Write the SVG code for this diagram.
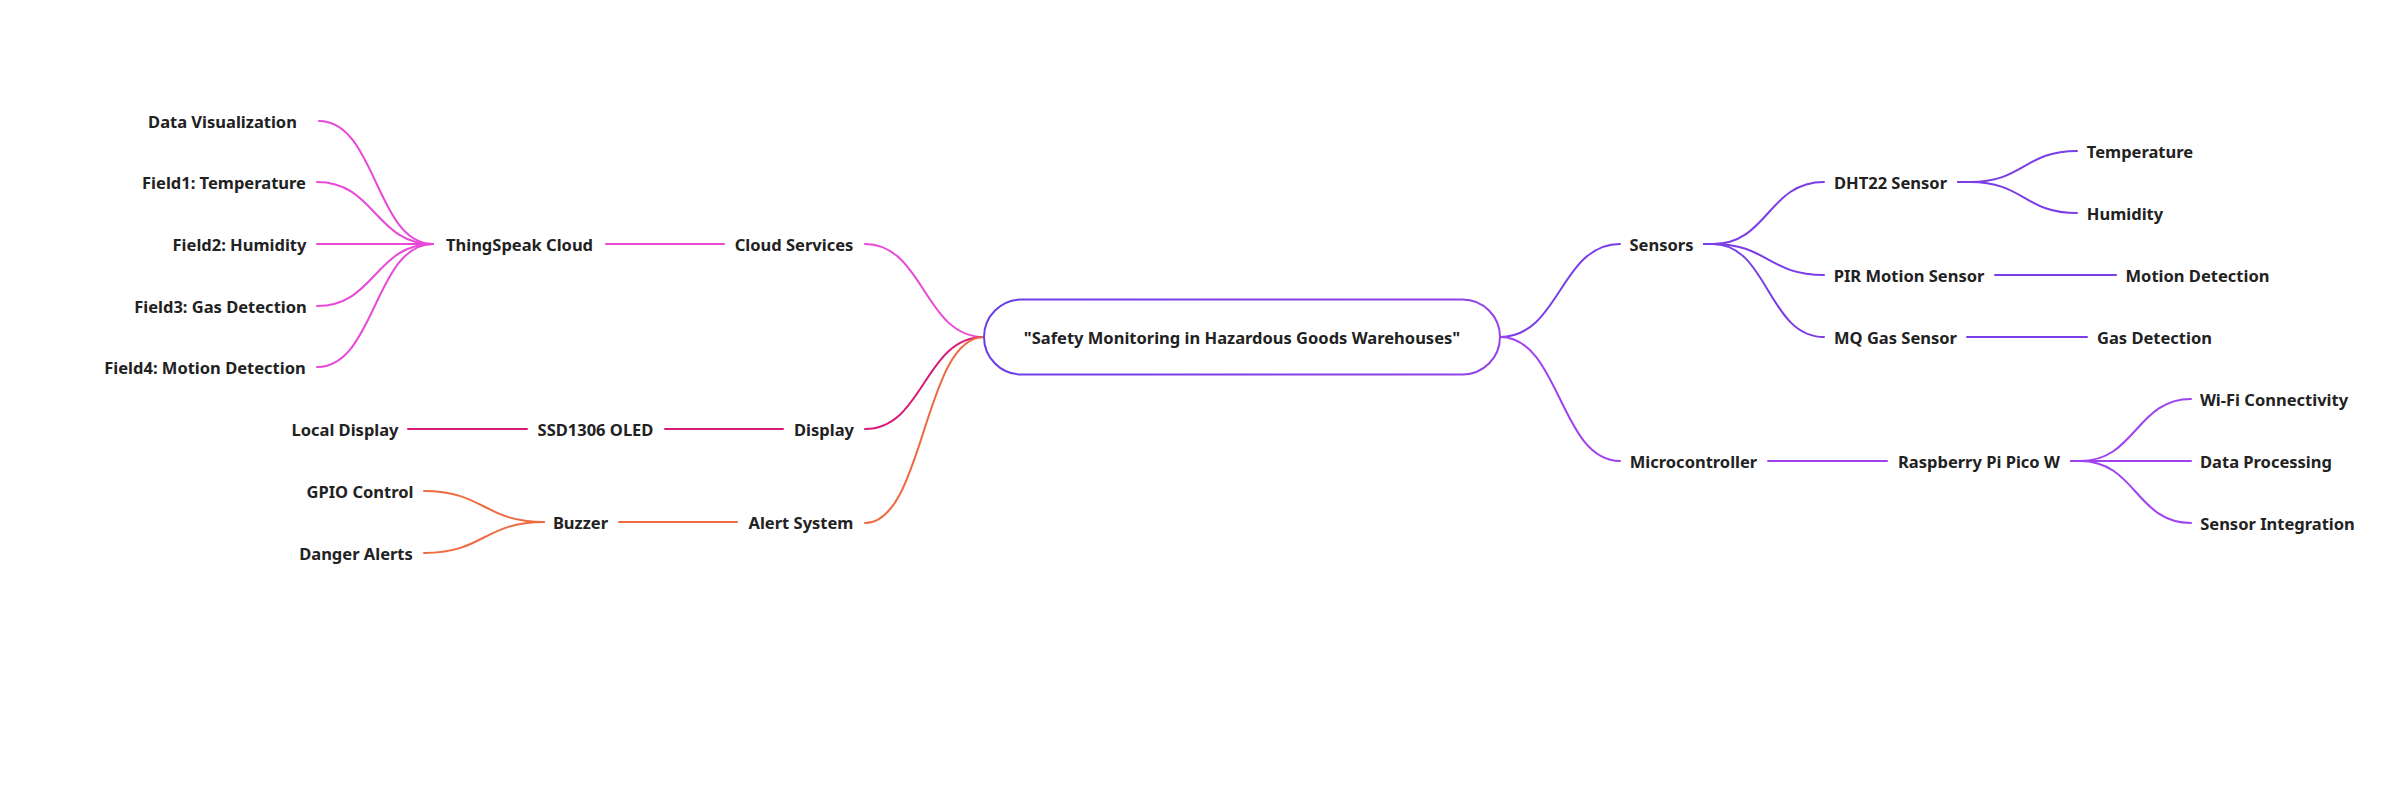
<svg xmlns="http://www.w3.org/2000/svg" width="2408" height="808" viewBox="0 0 2408 808">
<defs>
<linearGradient id="rootStroke" x1="0" y1="0" x2="1" y2="0">
<stop offset="0" stop-color="#6a3de6"/>
<stop offset="1" stop-color="#9642e4"/>
</linearGradient>
<style>
text{font-family:"Noto Sans","Open Sans","Liberation Sans",sans-serif;font-weight:bold;font-size:16.5px;fill:#222;text-anchor:middle;dominant-baseline:central}
.e{fill:none;stroke-width:2;stroke-linecap:round}
.pink{stroke:#e84ad8}
.crim{stroke:#d81b78}
.orng{stroke:#ee6b42}
.purp{stroke:#7b3ee6}
.viol{stroke:#a043ec}
</style>
</defs>
<rect width="2408" height="808" fill="#fff"/>
<g id="connectors">
<!-- root to level 1 -->
<path class="e pink" d="M984 337 C924 337 924 244 865 244"/>
<path class="e crim" d="M984 337 C924 337 924 429 865 429"/>
<path class="e orng" d="M984 337 C924 337 924 523 865 523"/>
<path class="e purp" d="M1500 337 C1560 337 1560 244 1620 244"/>
<path class="e viol" d="M1500 337 C1560 337 1560 461 1620 461"/>
<!-- cloud branch -->
<path class="e pink" d="M724 244 L606 244"/>
<path class="e pink" d="M433 244 C376 244 376 121 319 121"/>
<path class="e pink" d="M433 244 C375 244 375 182 317 182"/>
<path class="e pink" d="M433 244 L317 244"/>
<path class="e pink" d="M433 244 C375 244 375 306 317 306"/>
<path class="e pink" d="M433 244 C375 244 375 367 317 367"/>
<!-- display branch -->
<path class="e crim" d="M783 429 L665 429"/>
<path class="e crim" d="M527 429 L408 429"/>
<!-- alert branch -->
<path class="e orng" d="M737 522 L619 522"/>
<path class="e orng" d="M544 522 C484 522 484 491 424 491"/>
<path class="e orng" d="M544 522 C484 522 484 553 424 553"/>
<!-- sensors branch -->
<path class="e purp" d="M1704 244 L1713 244 C1768 244 1768 182 1824 182"/>
<path class="e purp" d="M1704 244 L1713 244 C1768 244 1768 275 1824 275"/>
<path class="e purp" d="M1704 244 L1713 244 C1768 244 1768 337 1824 337"/>
<path class="e purp" d="M1958 182 L1970 182 C2024 182 2024 151 2077 151"/>
<path class="e purp" d="M1958 182 L1970 182 C2024 182 2024 213 2077 213"/>
<path class="e purp" d="M1995 275 L2116 275"/>
<path class="e purp" d="M1967 337 L2087 337"/>
<!-- microcontroller branch -->
<path class="e viol" d="M1768 461 L1887 461"/>
<path class="e viol" d="M2071 461 L2080 461 C2136 461 2136 399 2191 399"/>
<path class="e viol" d="M2071 461 L2191 461"/>
<path class="e viol" d="M2071 461 L2080 461 C2136 461 2136 523 2191 523"/>
</g>
<g id="root">
<rect x="984" y="299.5" width="516" height="75" rx="37.5" fill="#fff" stroke="url(#rootStroke)" stroke-width="2"/>
<text x="1242" y="337">"Safety Monitoring in Hazardous Goods Warehouses"</text>
</g>
<g id="cloud-services"><text x="794" y="244">Cloud Services</text></g>
<g id="thingspeak-cloud"><text x="519.5" y="244">ThingSpeak Cloud</text></g>
<g id="data-visualization"><text x="222.5" y="121">Data Visualization</text></g>
<g id="field1"><text x="224" y="182">Field1: Temperature</text></g>
<g id="field2"><text x="239.5" y="244">Field2: Humidity</text></g>
<g id="field3"><text x="220.5" y="306">Field3: Gas Detection</text></g>
<g id="field4"><text x="205" y="367">Field4: Motion Detection</text></g>
<g id="display"><text x="824" y="429">Display</text></g>
<g id="ssd1306"><text x="595.5" y="429">SSD1306 OLED</text></g>
<g id="local-display"><text x="345" y="429">Local Display</text></g>
<g id="alert-system"><text x="801" y="522">Alert System</text></g>
<g id="buzzer"><text x="580.5" y="522">Buzzer</text></g>
<g id="gpio-control"><text x="360" y="491">GPIO Control</text></g>
<g id="danger-alerts"><text x="356" y="553">Danger Alerts</text></g>
<g id="sensors"><text x="1661.5" y="244">Sensors</text></g>
<g id="dht22"><text x="1890.5" y="182">DHT22 Sensor</text></g>
<g id="pir"><text x="1909" y="275">PIR Motion Sensor</text></g>
<g id="mq"><text x="1895.5" y="337">MQ Gas Sensor</text></g>
<g id="temperature"><text x="2140" y="151">Temperature</text></g>
<g id="humidity"><text x="2125" y="213">Humidity</text></g>
<g id="motion-detection"><text x="2197.5" y="275">Motion Detection</text></g>
<g id="gas-detection"><text x="2154.5" y="337">Gas Detection</text></g>
<g id="microcontroller"><text x="1693.5" y="461">Microcontroller</text></g>
<g id="pico"><text x="1979" y="461">Raspberry Pi Pico W</text></g>
<g id="wifi"><text x="2274" y="399">Wi-Fi Connectivity</text></g>
<g id="data-processing"><text x="2266" y="461">Data Processing</text></g>
<g id="sensor-integration"><text x="2277.5" y="523">Sensor Integration</text></g>
</svg>
